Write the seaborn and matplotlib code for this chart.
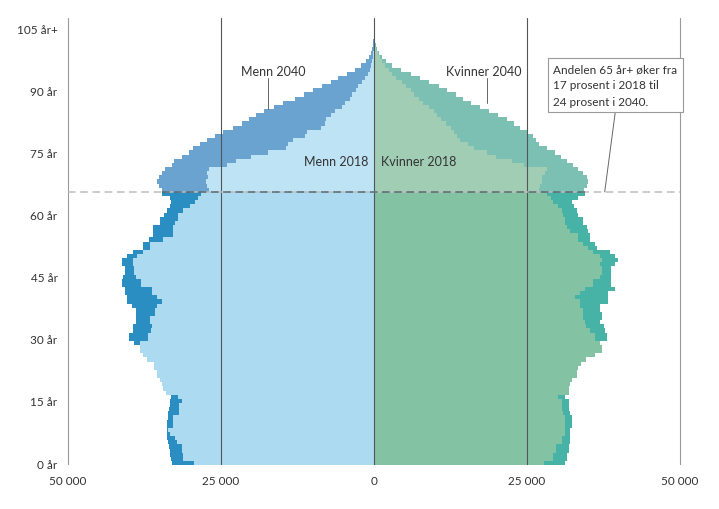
import numpy as np
import pandas as pd
import matplotlib
matplotlib.use("Agg")
import matplotlib.pyplot as plt
import seaborn as sns

# ---------------- data (thousands of persons, by single year of age 0..105+) ----------------
ages = list(range(106))
age_tick_values = [0, 15, 30, 45, 60, 75, 90, 105]
age_tick_labels = ["0 år", "15 år", "30 år", "45 år", "60 år", "75 år", "90 år", "105 år+"]
x_tick_values = [-50000, -25000, 0, 25000, 50000]
x_tick_labels = ["50 000", "25 000", "0", "25 000", "50 000"]

men_2018 = [
    29.4, 31.2, 31.2, 31.3, 31.3, 32.2, 32.5, 33.4, 33.6, 32.8,
    32.8, 32.8, 31.9, 31.8, 31.9, 31.4, 32.0, 34.0, 34.4, 34.7,
    35.0, 35.5, 35.5, 35.9, 35.9, 37.1, 37.7, 38.2, 38.2, 38.3,
    36.9, 36.9, 36.5, 36.3, 36.6, 36.6, 35.8, 35.8, 35.5, 34.7,
    35.5, 36.3, 36.3, 38.0, 38.0, 38.9, 39.2, 39.2, 39.3, 39.3,
    38.8, 37.8, 36.6, 36.6, 34.4, 32.8, 32.8, 32.8, 32.5, 32.0,
    32.0, 31.2, 30.1, 29.2, 28.7, 28.3, 27.0, 27.3, 27.4, 27.2,
    27.3, 27.0, 24.0, 22.6, 20.1, 17.3, 14.4, 14.0, 13.3, 11.2,
    10.9, 8.7, 8.0, 7.9, 7.0, 6.3, 5.3, 4.8, 3.9, 3.6,
    2.9, 2.6, 1.9, 1.4, 1.0, 0.7, 0.45, 0.3, 0.2, 0.12,
    0.08, 0.05, 0.03, 0.02, 0.01, 0.01,
]
men_2040 = [
    33.0, 33.2, 33.3, 33.4, 33.5, 33.7, 33.8, 33.9, 33.9, 33.9,
    33.9, 33.7, 33.7, 33.5, 33.4, 33.3, 33.1, 33.0, 33.2, 33.3,
    33.5, 33.6, 33.8, 34.0, 34.3, 34.8, 35.5, 36.5, 37.5, 39.2,
    40.0, 40.0, 39.4, 39.4, 38.9, 38.9, 38.9, 38.9, 39.5, 40.4,
    40.4, 40.7, 40.7, 41.2, 41.2, 41.0, 40.7, 40.7, 41.1, 41.1,
    40.4, 39.4, 37.7, 37.7, 36.7, 36.1, 36.1, 36.1, 35.0, 34.9,
    34.3, 33.9, 33.3, 33.1, 33.4, 34.7, 34.7, 35.2, 35.5, 35.2,
    34.7, 34.2, 33.0, 32.6, 31.4, 30.3, 29.5, 28.4, 27.3, 26.0,
    24.6, 23.0, 21.5, 20.5, 19.2, 18.0, 16.4, 14.8, 12.9, 11.4,
    10.0, 8.5, 7.1, 5.9, 4.4, 3.1, 2.1, 1.3, 0.8, 0.45,
    0.25, 0.15, 0.1, 0.06, 0.04, 0.03,
]
women_2018 = [
    27.7, 29.3, 29.3, 29.8, 29.8, 30.7, 30.7, 31.2, 31.2, 31.2,
    31.2, 31.2, 30.9, 30.7, 30.7, 30.7, 30.1, 31.8, 31.8, 32.0,
    32.3, 33.1, 33.1, 33.4, 33.9, 34.7, 36.1, 37.2, 37.2, 37.0,
    36.1, 36.1, 35.3, 34.7, 34.5, 34.2, 34.2, 34.1, 33.6, 33.6,
    32.8, 33.6, 34.5, 35.8, 35.8, 36.9, 37.2, 37.2, 36.9, 37.2,
    36.9, 35.8, 35.0, 34.2, 33.4, 33.4, 32.0, 31.5, 31.2, 31.2,
    30.9, 30.7, 30.1, 29.3, 28.9, 28.2, 26.9, 27.2, 27.5, 27.5,
    28.0, 28.3, 24.5, 22.5, 20.0, 18.5, 16.3, 15.3, 14.0, 13.5,
    13.0, 12.5, 11.8, 11.0, 10.3, 9.8, 9.0, 8.0, 7.3, 6.6,
    6.0, 5.2, 4.5, 3.6, 3.0, 2.5, 1.8, 1.3, 0.9, 0.6,
    0.35, 0.2, 0.12, 0.07, 0.04, 0.03,
]
women_2040 = [
    31.2, 31.5, 31.5, 31.8, 31.8, 32.0, 32.0, 32.1, 32.1, 32.3,
    32.3, 32.3, 32.0, 31.8, 31.8, 31.8, 31.2, 31.2, 31.3, 31.4,
    31.6, 31.8, 32.0, 32.3, 32.8, 33.5, 34.5, 35.5, 36.5, 36.8,
    38.0, 38.0, 37.7, 37.5, 36.9, 37.2, 37.2, 36.9, 36.9, 38.3,
    38.3, 38.3, 39.4, 38.8, 38.8, 38.8, 38.8, 38.8, 39.4, 39.9,
    39.4, 38.6, 36.5, 36.1, 35.3, 35.3, 34.9, 34.8, 34.1, 34.1,
    33.4, 33.1, 32.6, 32.3, 33.4, 34.5, 34.3, 34.8, 35.0, 34.8,
    34.2, 33.4, 32.5, 31.5, 30.5, 29.5, 28.3, 27.0, 26.5, 26.0,
    25.1, 23.8, 22.9, 21.8, 20.2, 18.8, 17.4, 15.8, 14.5, 13.4,
    12.0, 10.7, 9.0, 7.5, 6.0, 4.4, 3.0, 2.0, 1.3, 0.8,
    0.45, 0.25, 0.15, 0.1, 0.06, 0.05,
]

# ---------------- styling ----------------
sns.set_theme(style="white")
plt.rcParams["font.family"] = ["Lato", "DejaVu Sans"]
TXT = "#333333"

palettes = {
    "men_2040": {"under": "#2b8ec3", "over": "#6aa2d0"},
    "men_2018": {"under": "#abdaf1", "over": "#bde3f4"},
    "women_2040": {"under": "#47b3a7", "over": "#7cc0b4"},
    "women_2018": {"under": "#83c3a4", "over": "#a1cdb5"},
}
series = [
    ("men_2040", men_2040, -1),
    ("men_2018", men_2018, -1),
    ("women_2040", women_2040, 1),
    ("women_2018", women_2018, 1),
]

fig = plt.figure(figsize=(7.19, 5.10), dpi=100)
ax = fig.add_axes([59 / 719, 1 - 466.1 / 510, 630 / 719, 447.6 / 510])

for name, vals, sign in series:
    df = pd.DataFrame({
        "age": ages,
        "value": sign * np.array(vals) * 1000,
    })
    df["group"] = np.where(df["age"] >= 66, "over", "under")
    sns.barplot(data=df, x="value", y="age", hue="group", hue_order=["under", "over"],
                palette=palettes[name], orient="h", native_scale=True, width=1.0,
                dodge=False, saturation=1, legend=False, errorbar=None,
                linewidth=0, ax=ax)

ax.set_xlim(-51470, 51470)
ax.set_ylim(-0.5, 107.6)
for s in ax.spines.values():
    s.set_visible(False)

# vertical reference lines
for xv in [-25000, 0, 25000]:
    ax.axvline(xv, color="#555555", lw=0.8, zorder=5)
for xv in [-50000, 50000]:
    ax.axvline(xv, color="#9a9a9a", lw=0.8, zorder=5)

# dashed 65+ line
line_y = 65.5
ax.hlines(line_y, -50000, 50000, colors="#bdbdbd", linestyles=(0, (5, 3)), lw=1.1, zorder=6)
left_ext = -max(men_2040[65], men_2040[66]) * 1000
right_ext = max(women_2040[65], women_2040[66]) * 1000
ax.hlines(line_y, left_ext, right_ext, colors="#5a6a70", linestyles=(0, (5, 3)), lw=1.1, zorder=7)

ax.set_yticks(age_tick_values)
ax.set_yticklabels(age_tick_labels)
ax.set_xticks(x_tick_values)
ax.set_xticklabels(x_tick_labels)
ax.tick_params(axis="both", length=0, labelsize=8.5, colors=TXT)
ax.tick_params(axis="x", pad=7)
ax.tick_params(axis="y", pad=1)
ax.set_xlabel("")
ax.set_ylabel("")

# series labels
ax.text(-16500, 94.7, "Menn 2040", ha="center", va="center", fontsize=9, color=TXT, zorder=8)
ax.plot([-17300, -17300], [93.0, 85.5], color="#666666", lw=0.7, zorder=8)
ax.text(18000, 94.7, "Kvinner 2040", ha="center", va="center", fontsize=9, color=TXT, zorder=8)
ax.plot([18400, 18400], [93.0, 87.0], color="#666666", lw=0.7, zorder=8)
ax.text(-1000, 73.0, "Menn 2018", ha="right", va="center", fontsize=9, color=TXT, zorder=8)
ax.text(1100, 73.0, "Kvinner 2018", ha="left", va="center", fontsize=9, color=TXT, zorder=8)

# annotation box
ax.plot([39400, 37700], [84.5, line_y], color="#666666", lw=0.7, zorder=8)
ax.text(29300, 91.3, "Andelen 65 år+ øker fra\n17 prosent i 2018 til\n24 prosent i 2040.",
        ha="left", va="center", fontsize=8.5, color=TXT, linespacing=1.6, zorder=9,
        bbox=dict(boxstyle="square,pad=0.45", fc="white", ec="#9a9a9a", lw=0.8))

fig.savefig("out.png", dpi=100)
